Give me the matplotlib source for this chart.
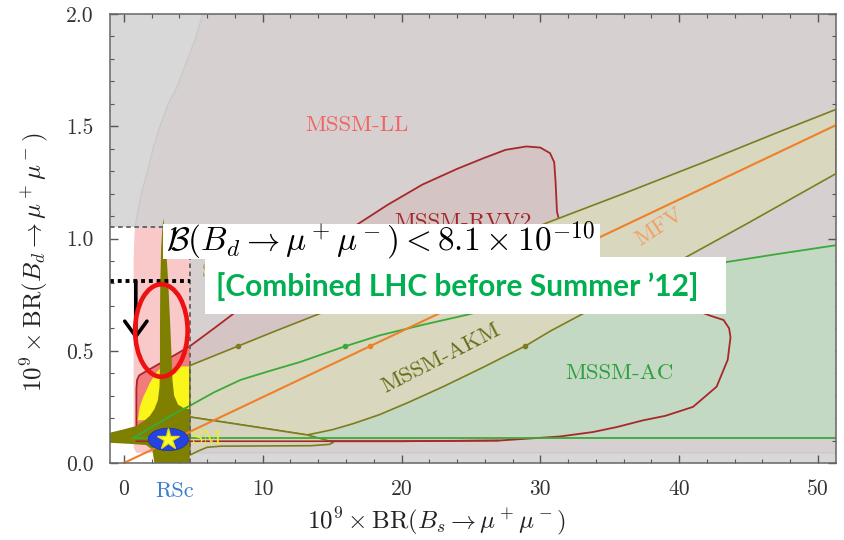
import numpy as np
import matplotlib.pyplot as plt
from matplotlib.patches import Polygon, Rectangle, Ellipse

plt.rcParams['mathtext.fontset'] = 'cm'

# --- model regions in the (BR_s, BR_d) plane, both in units of 1e-9 ---
# MSSM-LL: everything right of this boundary
ll_x = [0.7, 0.7, 0.75, 0.8, 1.25, 1.66, 2.1, 2.59, 3.2, 3.82, 4.6, 5.2, 5.69, 51.3, 51.3, 0.9]
ll_y = [0.07, 0.9, 1.0, 1.05, 1.2, 1.29, 1.4, 1.5, 1.6, 1.675, 1.8, 1.9, 2.0, 2.0, 0.045, 0.045]

# MSSM-RVV2 contour
rvv_x = [0.9, 0.9, 0.95, 1.1, 1.5, 2.5, 3.5, 4.75, 6.5, 8.0, 10.0, 12.5, 14.5, 16.5, 19.0, 21.5,
         24.0, 26.0, 27.5, 29.0, 30.0, 30.7, 31.0, 31.1, 31.2, 31.6, 35.0, 39.0, 41.2, 42.3, 43.2,
         43.6, 43.7, 43.5, 42.7, 41.0, 39.0, 37.4, 35.5, 33.8, 31.4, 27.0, 20.0, 10.0]
rvv_y = [0.097, 0.33, 0.37, 0.39, 0.405, 0.44, 0.475, 0.52, 0.6, 0.67, 0.76, 0.87, 0.96, 1.05, 1.15, 1.24,
         1.31, 1.36, 1.395, 1.41, 1.405, 1.38, 1.34, 1.25, 1.12, 1.02, 0.9, 0.76, 0.68, 0.655, 0.637,
         0.6, 0.56, 0.46, 0.34, 0.25, 0.21, 0.19, 0.16, 0.138, 0.118, 0.1, 0.097, 0.097]

# MSSM-AC: upper edge, flat floor
ac_x = [0.65, 2.0, 3.5, 4.75, 6.5, 8.4, 10.5, 12.7, 15.8, 18.4, 21.5, 24.7, 28.0, 32.0, 36.0, 40.0, 43.4, 47.0, 51.3]
ac_y = [0.11, 0.16, 0.215, 0.255, 0.315, 0.37, 0.41, 0.45, 0.517, 0.568, 0.615, 0.66, 0.71, 0.765, 0.815, 0.86, 0.895, 0.93, 0.97]
ac_floor = 0.11

# MSSM-AKM band and its low lobe
akm_up_x = [4.75, 7.8, 11.0, 14.3, 18.4, 24.0, 30.7, 36.0, 42.0, 47.0, 51.3]
akm_up_y = [0.434, 0.51, 0.59, 0.67, 0.77, 0.91, 1.075, 1.2, 1.345, 1.47, 1.575]
akm_lo_x = [51.3, 45.0, 40.0, 36.0, 33.4, 30.7, 29.0, 26.0, 23.0, 20.5, 18.4, 16.5, 15.0, 13.2, 9.0, 4.75]
akm_lo_y = [1.289, 1.07, 0.9, 0.765, 0.676, 0.587, 0.524, 0.43, 0.34, 0.27, 0.215, 0.175, 0.148, 0.125, 0.165, 0.205]
lobe_x = [4.75, 9.0, 13.2, 14.4, 15.1, 14.8, 13.5, 10.0, 7.0, 6.0, 5.3, 4.75]
lobe_y = [0.205, 0.165, 0.125, 0.105, 0.092, 0.083, 0.077, 0.076, 0.075, 0.07, 0.052, 0.035]

# MFV line
mfv_x = [0.0, 51.3]
mfv_y = [0.0, 1.505]

# RSc spike and the yellow region under it
rsc_x = [-1.0, 0.0, 0.9, 1.5, 1.87, 2.2, 2.45, 2.57, 2.6, 2.6, 2.62, 2.68, 2.76, 2.85, 2.93, 3.05, 3.2,
         3.35, 3.45, 3.5, 3.62, 3.9, 4.3, 4.75, 4.75, 2.2, 2.05, 1.6, 0.5, -1.0]
rsc_y = [0.135, 0.15, 0.165, 0.19, 0.21, 0.24, 0.28, 0.34, 0.45, 0.6, 0.8, 0.95, 1.04, 1.09, 1.04, 0.95, 0.8,
         0.6, 0.45, 0.37, 0.3, 0.26, 0.245, 0.24, 0.0, 0.0, 0.06, 0.08, 0.085, 0.09]
yel_x = [1.0, 1.15, 1.37, 1.87, 2.3, 2.6, 3.45, 3.6, 3.8, 4.75, 4.75]
yel_y = [0.19, 0.25, 0.29, 0.356, 0.40, 0.42, 0.40, 0.42, 0.43, 0.43, 0.2]

# SM point and experimental limits
sm_bs, sm_bd = 3.2, 0.105
bs_limit, bd_limit = 4.75, 1.05
bd_new = 0.81
dot_level = 0.52

xlim = (-1.0, 51.3)
ylim = (0.0, 2.0)

W, H = 844, 540
fig = plt.figure(figsize=(W / 100, H / 100), dpi=100)
ax = fig.add_axes([110 / W, 1 - 463 / H, 726 / W, 449 / H])
ax.set_xlim(*xlim)
ax.set_ylim(*ylim)
ax.set_facecolor('#d8d8d8')


def poly(x, y, **kw):
    p = Polygon(np.column_stack([x, y]), closed=True, **kw)
    ax.add_patch(p)
    return p


def fx(px):
    return px / W


def fy(py):
    return 1 - py / H


box = Rectangle((xlim[0], 0), bs_limit - xlim[0], bd_limit, transform=ax.transData)

# LL and RVV2 outside the allowed box (greyed)
poly(ll_x, ll_y, fc='#d6d0d0', ec='#cbc8c8', lw=0.9, zorder=1)
poly(rvv_x, rvv_y, fc='#d5c4c4', ec='none', zorder=1.1)
ax.add_patch(Rectangle((xlim[0], 0), bs_limit - xlim[0], bd_limit, fc='white', ec='none', zorder=1.2))
# same regions inside the box
p = poly(ll_x, ll_y, fc='#f9c9c9', ec='none', zorder=1.3)
p.set_clip_path(box)
p = poly(rvv_x, rvv_y, fc='#f27c7c', ec='none', zorder=1.4)
p.set_clip_path(box)

# MSSM-AC
poly(ac_x + [ac_x[-1], ac_x[0]], ac_y + [ac_floor, ac_floor], fc='#c3d9c3', ec='none', zorder=2)
poly(rvv_x, rvv_y, fc='none', ec='#a8282a', lw=1.3, zorder=2.1)

# yellow region and AKM band
poly(yel_x, yel_y, fc='#fbf61a', ec='none', zorder=2.5)
poly(akm_up_x + akm_lo_x, akm_up_y + akm_lo_y, fc='#d9d7be', ec='#7d7d1e', lw=1.2, zorder=3)
poly(lobe_x, lobe_y, fc='#d6d4be', ec='#7d7d1e', lw=1.2, zorder=3)
poly(rsc_x, rsc_y, fc='#808000', ec='none', zorder=3.5)

# lines on top
ax.plot(ac_x, ac_y, color='#3aaa3a', lw=1.3, zorder=4)
ax.plot([ac_x[0], ac_x[-1]], [ac_floor, ac_floor], color='#3aaa3a', lw=1.3, zorder=4)
ax.plot(mfv_x, mfv_y, color='#f07f2a', lw=1.5, zorder=4)
ax.plot(np.r_[rvv_x[-3:], rvv_x[0]], np.r_[rvv_y[-3:], rvv_y[0]], color='#a8282a', lw=1.2, zorder=4)

# small dots where the curves cross the same B_d value
ax.plot(np.interp(dot_level, akm_up_y, akm_up_x), dot_level, 'o', ms=3, color='#7d7d1e', zorder=4.2)
ax.plot(np.interp(dot_level, akm_lo_y[:11][::-1], akm_lo_x[:11][::-1]), dot_level, 'o', ms=3,
        color='#7d7d1e', zorder=4.2)
ax.plot(np.interp(dot_level, ac_y, ac_x), dot_level, 'o', ms=3, color='#3aaa3a', zorder=4.2)
ax.plot(np.interp(dot_level, mfv_y, mfv_x), dot_level, 'o', ms=3, color='#f07f2a', zorder=4.2)

# SM point
ax.add_patch(Ellipse((sm_bs, sm_bd), 2.9, 0.1, fc='#2443e0', ec='#1a2ea0', lw=0.5, zorder=5))
ax.plot(sm_bs, sm_bd, '*', ms=16, color='#ffff30', mec='#e8e000', zorder=5.1)

# experimental box
ax.plot([xlim[0], bs_limit], [bd_limit, bd_limit], color='#606060', lw=1.3, ls=(0, (2.5, 2)), zorder=5)
ax.plot([bs_limit, bs_limit], [0, bd_limit], color='#606060', lw=1.3, ls=(0, (2.5, 2)), zorder=5)

# region labels
lab = dict(family='cmr10', fontsize=16.5, ha='center', va='center', zorder=6)
ax.text(16.8, 1.506, 'MSSM-LL', color='#f26464', **lab)
ax.text(24.4, 1.047, 'MSSM-RVV2', color='#a3282c', family='cmr10', fontsize=16.5, ha='center',
        va='baseline', zorder=6)
ax.text(38.6, 1.054, 'MFV', color='#f0a06a', rotation=33, rotation_mode='anchor', **lab)
ax.text(22.8, 0.468, 'MSSM-AKM', color='#6b6b1a', rotation=27, rotation_mode='anchor', **lab)
ax.text(35.7, 0.40, 'MSSM-AC', color='#2e9e3e', **lab)
ax.text(4.9, sm_bd, 'SM', color='#ecec30', family='cmr10', fontsize=15, ha='left', va='center', zorder=6)
ax.text(5.6, 0.85, 'SM4', color='#a8a860', family='cmr10', fontsize=15, ha='left', va='center', zorder=6)

# new limit: dotted line, arrow, ellipse around the RSc spike
ax.plot([xlim[0], bs_limit], [bd_new, bd_new], color='black', lw=2.8, ls=(0, (1, 1)), zorder=7)
ax.annotate('', xy=(0.86, 0.55), xytext=(0.86, bd_new),
            arrowprops=dict(arrowstyle='->,head_length=0.55,head_width=0.4', color='black',
                            lw=2.6, mutation_scale=20, shrinkA=0, shrinkB=0), zorder=7)
ax.add_patch(Ellipse((2.7, 0.59), 3.78, 0.412, fc='none', ec='#ee1111', lw=3.3, zorder=7))

# axes styling
ax.set_xticks([0, 10, 20, 30, 40, 50])
ax.set_xticks(np.arange(0, 52, 2), minor=True)
ax.set_yticks([0.0, 0.5, 1.0, 1.5, 2.0])
ax.set_yticks(np.arange(0, 2.01, 0.1), minor=True)
ax.set_xticklabels(['0', '10', '20', '30', '40', '50'], family='cmr10', fontsize=15.5, color='#333333')
ax.set_yticklabels(['0.0', '0.5', '1.0', '1.5', '2.0'], family='cmr10', fontsize=15.5, color='#333333')
ax.tick_params(which='both', direction='in', top=True, right=True, color='#555555')
ax.tick_params(which='major', length=6, width=1, pad=12)
ax.tick_params(which='minor', length=3, width=0.8)
for s in ax.spines.values():
    s.set_color('#666666')
    s.set_linewidth(1.1)
    s.set_zorder(8)

ax.text(3.67, -0.062, 'RSc', transform=ax.get_xaxis_transform(), family='cmr10', fontsize=16,
        color='#3b7dd0', ha='center', va='center')

# axis titles
fig.text(fx(436), fy(521), r'$10^9\times\mathrm{BR}(B_s\to\mu^+\mu^-)$', fontsize=18,
         color='#222222', ha='center', va='center')
fig.text(fx(34), fy(262), r'$10^9\times\mathrm{BR}(B_d\to\mu^+\mu^-)$', fontsize=18,
         color='#222222', ha='center', va='center', rotation=90)

# overlay boxes with the combined limit
fig.add_artist(Rectangle((fx(163), fy(259)), fx(600) - fx(163), fy(224) - fy(259),
                         transform=fig.transFigure, fc='white', ec='none', zorder=10))
fig.add_artist(Rectangle((fx(205), fy(314)), fx(726) - fx(205), fy(257) - fy(314),
                         transform=fig.transFigure, fc='white', ec='none', zorder=10))
fig.text(fx(166), fy(241), r'$\mathcal{B}(B_d\to\mu^+\mu^-) < 8.1\times10^{-10}$',
         fontsize=24, ha='left', va='center', zorder=11)
fig.text(fx(216), fy(287), '[Combined LHC before Summer \u201912]', family='Lato',
         fontweight='bold', fontsize=21.5, color='#00b050', ha='left', va='center', zorder=11)

fig.savefig('out.png', dpi=100)
